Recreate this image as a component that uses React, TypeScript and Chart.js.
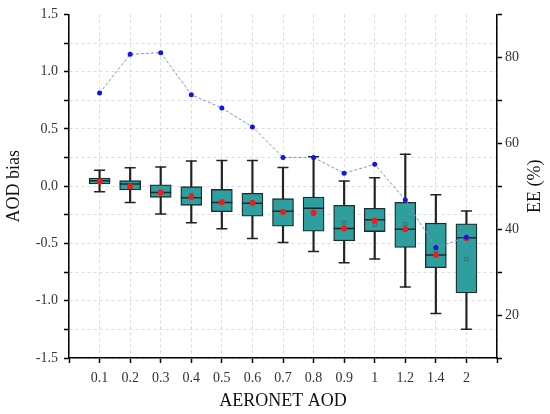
import { useEffect, useRef } from 'react';
import { Chart, registerables } from 'chart.js';

Chart.register(...registerables);

const categories = ['0.1', '0.2', '0.3', '0.4', '0.5', '0.6', '0.7', '0.8', '0.9', '1', '1.2', '1.4', '2'];

// box plot statistics (AOD bias)
const whiskerMax = [0.14, 0.16, 0.167, 0.219, 0.224, 0.224, 0.164, 0.257, 0.045, 0.074, 0.28, -0.074, -0.216];
const q3 = [0.071, 0.048, 0.013, -0.004, -0.028, -0.062, -0.109, -0.094, -0.167, -0.193, -0.141, -0.323, -0.329];
const median = [0.048, 0.019, -0.054, -0.1, -0.143, -0.149, -0.219, -0.193, -0.37, -0.294, -0.375, -0.601, -0.451];
const q1 = [0.019, -0.033, -0.097, -0.167, -0.222, -0.262, -0.349, -0.393, -0.477, -0.396, -0.535, -0.711, -0.932];
const whiskerMin = [-0.048, -0.143, -0.242, -0.32, -0.372, -0.457, -0.491, -0.57, -0.668, -0.636, -0.88, -1.111, -1.25];
const meanSquare = [0.045, 0.005, -0.05, -0.077, -0.135, -0.14, -0.22, -0.225, -0.317, -0.335, -0.332, -0.558, -0.637];
const meanDot = [0.042, 0.0, -0.054, -0.094, -0.14, -0.146, -0.225, -0.233, -0.37, -0.3, -0.375, -0.6, -0.455];

// EE (%) on the right axis
const ee = [71.7, 80.7, 81.1, 71.3, 68.2, 63.8, 56.7, 56.7, 53.0, 55.1, 46.8, 35.7, 38.1];

const serif = '"Liberation Serif", "DejaVu Serif", serif';

const pts = (vals: number[]) => vals.map((v, i) => ({ x: i + 1, y: v }));

const rightTitle = {
  id: 'rightTitle',
  afterDraw(chart: Chart) {
    const { ctx, chartArea } = chart;
    const s = chart.scales.y1;
    ctx.save();
    ctx.translate(s.right - 15, (chartArea.top + chartArea.bottom) / 2);
    ctx.rotate(-Math.PI / 2);
    ctx.font = `18px ${serif}`;
    ctx.fillStyle = '#111';
    ctx.textAlign = 'center';
    ctx.textBaseline = 'middle';
    ctx.fillText('EE (%)', 0, 0);
    ctx.restore();
  },
};

export default function App() {
  const canvasRef = useRef<HTMLCanvasElement>(null);

  useEffect(() => {
    if (!canvasRef.current) return;
    const chart = new Chart(canvasRef.current, {
      type: 'bar',
      data: {
        datasets: [
          {
            type: 'line',
            label: 'EE',
            data: pts(ee),
            yAxisID: 'y1',
            borderColor: '#7f8ce0',
            borderWidth: 1,
            borderDash: [3, 2],
            pointRadius: 2.5,
            pointBackgroundColor: '#1414e6',
            pointBorderWidth: 0,
            order: 1,
          },
          {
            type: 'scatter',
            label: 'mean',
            data: pts(meanDot),
            pointRadius: 3,
            pointBackgroundColor: '#ee1c1c',
            pointBorderWidth: 0,
            order: 2,
          },
          {
            type: 'scatter',
            label: 'square',
            data: pts(meanSquare),
            pointStyle: 'rect',
            pointRadius: 2.4,
            pointBackgroundColor: 'transparent',
            pointBorderColor: '#4a5a5a',
            pointBorderWidth: 0.7,
            order: 3,
          },
          {
            type: 'scatter',
            label: 'median',
            data: pts(median),
            pointStyle: 'line',
            pointRadius: 10.5,
            pointBorderColor: '#1a2a2a',
            pointBorderWidth: 1.5,
            order: 4,
          },
          {
            type: 'bar',
            label: 'box',
            data: q1.map((v, i) => ({ x: i + 1, y: [v, q3[i]] })) as any,
            backgroundColor: '#2f9e9e',
            borderColor: '#1a2e2e',
            borderWidth: 1.3,
            borderSkipped: false,
            barThickness: 21,
            grouped: false,
            order: 5,
          },
          {
            type: 'scatter',
            label: 'capMax',
            data: pts(whiskerMax),
            pointStyle: 'line',
            pointRadius: 5.5,
            pointBorderColor: '#222',
            pointBorderWidth: 1.5,
            order: 6,
          },
          {
            type: 'scatter',
            label: 'capMin',
            data: pts(whiskerMin),
            pointStyle: 'line',
            pointRadius: 5.5,
            pointBorderColor: '#222',
            pointBorderWidth: 1.5,
            order: 6,
          },
          {
            type: 'bar',
            label: 'whisker',
            data: whiskerMin.map((v, i) => ({ x: i + 1, y: [v, whiskerMax[i]] })) as any,
            backgroundColor: '#222',
            borderWidth: 0,
            barThickness: 1.5,
            grouped: false,
            order: 7,
          },
        ],
      },
      options: {
        animation: false,
        responsive: true,
        maintainAspectRatio: false,
        layout: { padding: { top: 13, left: 0, right: 0, bottom: 0 } },
        plugins: { legend: { display: false }, tooltip: { enabled: false } },
        scales: {
          x: {
            type: 'linear',
            min: 0,
            max: 14,
            offset: false,
            afterFit: (s: any) => { s.height = 56; },
            grid: {
              offset: false,
              color: '#dcdcdc',
              lineWidth: 1,
              tickColor: '#000',
              tickWidth: 1.5,
              tickLength: 5,
            },
            border: { color: '#000', width: 1.5, dash: [3, 3] },
            ticks: {
              stepSize: 1,
              autoSkip: false,
              maxRotation: 0,
              padding: 7,
              color: '#333',
              font: { family: serif, size: 14 },
              callback: (v: any) => categories[Number(v) - 1] ?? '',
            },
            title: {
              display: true,
              text: 'AERONET AOD',
              color: '#111',
              font: { family: serif, size: 18 },
              padding: { top: 0, bottom: 2 },
            },
          },
          y: {
            position: 'left',
            min: -1.5,
            max: 1.5,
            afterFit: (s: any) => { s.width = 69; },
            grid: {
              color: (c: any) => (c.tick && c.tick.value === 1.5 ? 'transparent' : '#dcdcdc'),
              lineWidth: 1,
              tickColor: '#000',
              tickWidth: 1.5,
              tickLength: 5,
            },
            border: { color: '#000', width: 1.5, dash: [3, 3] },
            ticks: {
              stepSize: 0.25,
              autoSkip: false,
              padding: 6,
              color: '#333',
              font: { family: serif, size: 14 },
              callback: (v: any) => {
                const n = Number(v);
                return Math.abs(n * 2 - Math.round(n * 2)) < 1e-6 ? n.toFixed(1) : '';
              },
            },
            title: {
              display: true,
              text: 'AOD bias',
              color: '#111',
              font: { family: serif, size: 18 },
              padding: { top: 3, bottom: 0 },
            },
          },
          y1: {
            position: 'right',
            min: 10,
            max: 90,
            afterFit: (s: any) => { s.width = 53; },
            grid: {
              drawOnChartArea: false,
              tickColor: '#000',
              tickWidth: 1.5,
              tickLength: 5,
            },
            border: { color: '#000', width: 1.5 },
            ticks: {
              stepSize: 10,
              autoSkip: false,
              padding: 3,
              color: '#333',
              font: { family: serif, size: 14 },
              callback: (v: any) => (Number(v) % 20 === 0 && Number(v) > 10 && Number(v) < 90 ? String(v) : ''),
            },
          },
        },
      },
      plugins: [rightTitle],
    });
    return () => chart.destroy();
  }, []);

  return (
    <div style={{ position: 'fixed', left: 0, top: 0, width: 550, height: 414, background: '#fff' }}>
      <canvas ref={canvasRef} />
    </div>
  );
}
